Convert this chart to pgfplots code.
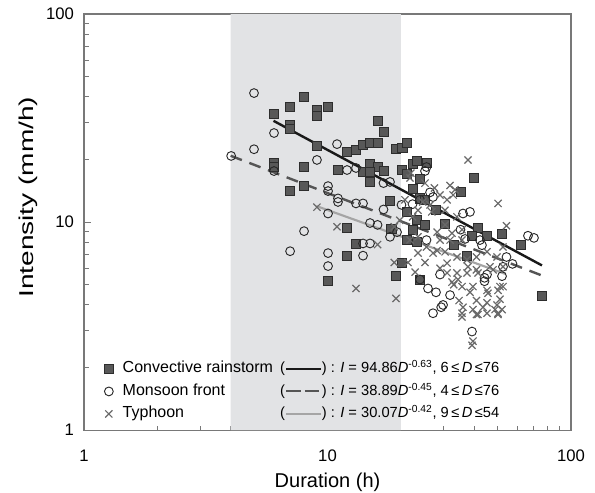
\documentclass[border=0pt]{standalone}
\usepackage{fontspec}
\setmainfont{Liberation Sans}
\usepackage{graphicx}
\usepackage{pgfplots}
\pgfplotsset{compat=1.18}
\definecolor{shade}{RGB}{226,227,229}
\definecolor{sqfill}{RGB}{88,88,88}
\definecolor{sqedge}{RGB}{45,45,45}
\definecolor{circ}{RGB}{40,40,40}
\definecolor{typh}{RGB}{105,105,105}
\definecolor{lineA}{RGB}{25,25,25}
\definecolor{lineB}{RGB}{85,85,85}
\definecolor{lineC}{RGB}{165,165,165}
\definecolor{axisgray}{RGB}{120,120,120}

\newcommand{\fit}{\fontsize{11}{13}\selectfont}

\begin{document}
\begin{tikzpicture}
\begin{axis}[
    scale only axis,
    width=365pt, height=312pt,
    xmode=log, ymode=log,
    xmin=1, xmax=100, ymin=1, ymax=100,
    log ticks with fixed point,
    xtick={1,10,100}, ytick={1,10,100},
    xtick pos=left, ytick pos=left,
    tick align=inside,
    major tick length=5pt, minor tick length=3.5pt,
    axis line style={axisgray, line width=1pt},
    every tick/.style={axisgray, line width=0.7pt},
    /pgf/number format/assume math mode=true,
    tick label style={font=\fontsize{12.5}{14}\selectfont},
    xticklabel style={yshift=-11pt},
    yticklabel style={xshift=-4pt},
    xlabel={Duration (h)},
    ylabel={\scalebox{1.4}[1]{Intensity (mm/h)}},
    label style={font=\fontsize{15}{17}\selectfont},
    xlabel style={at={(rel axis cs:0.5,0)}, anchor=center, yshift=-39pt},
    ylabel style={at={(rel axis cs:0,0.56)}, anchor=center, yshift=42pt},
    legend cell align=left,
    legend style={draw=none, fill=none, at={(0,0)}, anchor=south west,
        xshift=12pt, yshift=3pt, row sep=2.9pt, column sep=6pt,
        font=\fontsize{12}{14}\selectfont,
        nodes={inner sep=1pt, text height=9pt, text depth=3pt}},
    legend image code/.code={\draw[mark repeat=2,mark phase=2,#1]
        plot coordinates {(0pt,0pt)(5pt,0pt)(10pt,0pt)};},
]
% shaded duration band 4-20 h
\addplot[fill=shade, draw=none, forget plot] coordinates {(4,1) (20,1) (20,100) (4,100)} \closedcycle;

% convective rainstorm
\addplot[only marks, mark=square*, mark size=3.4pt, mark options={fill=sqfill, draw=sqedge, line width=0.6pt}] coordinates {
(6.03,33.0) (6.03,19.2) (6.03,18.4) (7.02,35.7) (8.01,39.9) (9.05,34.6) (9.05,32.3) (10.05,35.7)
(7.02,29.3) (7.02,28.0) (9.05,23.2) (8.01,18.4) (8.01,14.9) (7.02,14.1) (11.04,17.8) (12.0,21.7)
(13.09,22.2) (13.99,23.5) (14.95,24.0) (16.05,24.0) (16.05,30.6) (16.98,27.1) (14.95,19.0) (16.05,18.4)
(13.99,17.4) (14.95,17.4) (14.95,15.6) (16.98,17.6) (19.11,22.4) (20.3,22.7) (21.1,24.0) (20.13,17.8)
(21.1,17.0) (22.35,19.0) (23.21,19.7) (25.5,19.2) (23.98,16.1) (22.35,14.4) (23.98,13.0) (25.14,12.8)
(18.06,12.6) (27.9,11.4) (21.1,11.2) (23.21,10.2) (25.14,9.7) (30.39,9.8) (12.03,9.4) (18.3,9.3)
(22.35,9.2) (13.09,7.9) (21.1,8.2) (23.21,8.0) (12.03,6.9) (10.0,5.2) (20.13,6.35) (19.11,5.5)
(23.98,5.3) (39.95,16.3) (35.17,13.9) (41.5,9.4) (39.21,8.6) (45.19,8.6) (52.08,8.76) (62.33,7.75)
(37.4,6.9) (33.08,7.75) (76.0,4.4)
};
\addlegendentry{\makebox[118pt][l]{Convective rainstorm}{\fit(\tikz[baseline=-0.55ex]\draw[lineA,line width=1.6pt] (0,0)--(26pt,0);) : \textit{I} = 94.86\textit{D}\textsuperscript{-0.63}, 6\,≤\,\textit{D}\,≤76}}

% monsoon front
\addplot[only marks, mark=o, mark size=3.3pt, mark options={draw=circ, line width=0.7pt}] coordinates {
(4.02,20.8) (4.99,41.7) (6.03,26.8) (4.99,22.4) (6.03,17.6) (9.05,19.9) (10.94,23.7) (12.03,17.8)
(13.09,18.2) (10.05,14.9) (10.05,14.1) (11.04,13.0) (11.04,12.5) (10.05,11.0) (8.01,9.05) (7.02,7.25)
(10.05,7.1) (10.05,6.15) (16.98,15.4) (18.06,15.6) (13.09,12.3) (13.99,12.3) (14.95,9.9) (16.05,9.7)
(18.06,8.5) (13.99,7.9) (14.95,7.9) (13.99,6.9) (16.98,11.5) (20.13,12.1) (25.5,18.4) (25.14,17.6)
(26.36,13.9) (27.12,13.2) (23.98,12.8) (22.35,12.2) (19.3,8.95) (25.5,8.2) (36.02,11.0) (38.48,11.2)
(35.17,9.2) (36.7,8.3) (42.29,8.2) (43.09,7.75) (54.33,6.8) (57.51,6.3) (52.57,6.1) (44.13,5.4)
(45.19,5.6) (66.57,8.6) (70.47,8.4) (23.98,5.3) (25.86,4.8) (27.9,4.6) (28.98,5.6) (31.86,4.46)
(29.82,4.0) (27.12,3.65) (39.21,2.98) (52.08,5.5) (44.13,5.2) (29.3,3.9)
};
\addlegendentry{\makebox[118pt][l]{Monsoon front}{\fit(\tikz[baseline=-0.55ex]\draw[lineB,line width=1.6pt,dash pattern=on 11pt off 3pt] (0,0)--(26pt,0);) : \textit{I} = 38.89\textit{D}\textsuperscript{-0.45}, 4\,≤\,\textit{D}\,≤76}}

% typhoon
\addplot[only marks, mark=x, mark size=3.8pt, mark options={draw=typh, line width=0.9pt}] coordinates {
(9.05,11.8) (10.94,9.5) (16.05,7.8) (13.09,4.8) (19.11,4.3) (18.8,6.4) (18.8,9.5) (19.8,10.2)
(37.76,19.9) (50.15,12.3) (54.33,9.6) (22.0,17.2) (21.82,16.3) (22.35,10.6) (23.53,8.5) (21.82,8.2)
(23.53,7.1) (22.9,5.75) (24.6,12.5) (26.36,12.1) (26.8,11.2) (30.39,9.7) (30.97,12.8) (32.8,13.5)
(30.39,11.4) (34.02,10.6) (32.46,8.85) (35.68,9.2) (35.68,8.2) (28.98,8.2) (27.12,7.1) (30.39,7.2)
(30.97,6.35) (34.02,6.8) (37.4,6.6) (40.91,6.8) (45.19,7.2) (46.49,6.1) (49.68,6.8) (52.57,7.6)
(28.98,6.0) (34.02,5.7) (37.4,5.7) (40.91,5.9) (45.19,4.7) (50.15,4.7) (52.57,4.9) (35.68,4.9)
(32.46,5.15) (34.35,5.3) (38.48,4.6) (40.91,4.2) (45.19,4.1) (49.68,4.0) (52.08,3.8) (36.02,3.9)
(39.58,3.8) (35.68,3.5) (40.91,3.6) (45.19,3.65) (50.15,3.65) (39.21,2.56) (39.58,2.68) (25.5,7.6)
(28.2,7.3) (30.97,5.7) (33.0,5.0) (37.76,6.1) (41.5,5.7) (47.84,5.9) (52.57,6.1) (51.1,4.9)
(51.1,4.26) (45.61,4.55) (39.58,4.9) (43.5,3.9) (48.75,3.8) (35.68,3.65) (41.5,3.6) (50.15,3.6)
(25.14,15.4) (27.5,14.6) (28.98,13.5) (31.86,15.0) (33.4,14.3) (20.8,12.8) (23.53,11.4) (28.2,8.95)
(31.86,8.2) (21.4,6.4) (25.14,6.4) (34.7,4.2)
};
\addlegendentry{\makebox[118pt][l]{Typhoon}{\fit(\tikz[baseline=-0.55ex]\draw[lineC,line width=1.6pt] (0,0)--(26pt,0);) : \textit{I} = 30.07\textit{D}\textsuperscript{-0.42}, 9\,≤\,\textit{D}\,≤54}}

% fitted power laws
\addplot[lineA, line width=1.8pt, forget plot] coordinates {(6,30.68) (76,6.194)};
\addplot[lineB, line width=1.8pt, dash pattern=on 9pt off 6pt, forget plot] coordinates {(4,20.84) (76,5.539)};
\addplot[lineC, line width=1.6pt, forget plot] coordinates {(9,11.95) (54,5.629)};
\end{axis}
\pgfresetboundingbox
\path ([shift={(-63pt,-46.5pt)}]current axis.south west) rectangle ([shift={(18pt,10.5pt)}]current axis.north east);
\end{tikzpicture}
\end{document}
